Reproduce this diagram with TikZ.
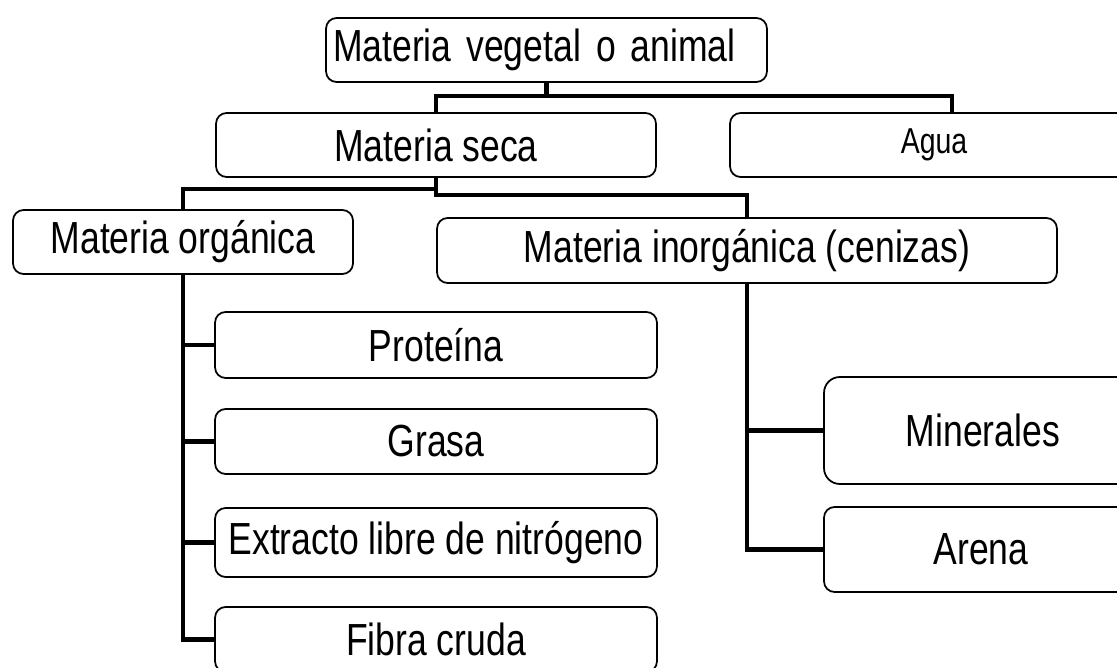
\documentclass[tikz,border=0pt]{standalone}
\usepackage{fontspec}
\setmainfont{Liberation Sans}[FakeStretch=0.79]
\usepackage{tikz}

\begin{document}
\begin{tikzpicture}[x=0.02cm, y=-0.02cm, line width=2.5pt]
                \tikzstyle{every node}=[font=\fontsize{25.6}{30}\selectfont]
                \tikzstyle{caja}=[draw, line width=1pt, rounded corners=6pt, fill=white, inner sep=0pt, align=center]
                \useasboundingbox (0,0) rectangle (1117,668);
                % nivel 1
                \node[caja, minimum width=8.82cm, minimum height=1.28cm, inner xsep=0.14cm, text width=8.54cm, align=left] (mva) at (546.5,50) {Materia vegetal o animal};
                % nivel 2
                \node[caja, minimum width=8.8cm, minimum height=1.28cm] (ms) at (436,145) {Materia seca};
                \node[caja, minimum width=8.16cm, minimum height=1.28cm, font=\fontsize{20.5}{24}\selectfont] (agua) at (934,145) {Agua};
                % nivel 3
                \node[caja, minimum width=6.8cm, minimum height=1.28cm] (mo) at (183,242) {Materia orgánica};
                \node[caja, minimum width=12.4cm, minimum height=1.3cm] (mi) at (747,250.5) {Materia inorgánica (cenizas)};
                % nivel 4
                \node[caja, minimum width=8.84cm, minimum height=1.32cm] (prot) at (436,345) {Proteína};
                \node[caja, minimum width=8.84cm, minimum height=1.3cm] (gras) at (436,441.5) {Grasa};
                \node[caja, minimum width=8.84cm, minimum height=1.38cm] (eln) at (436,542.5) {Extracto libre de nitrógeno};
                \node[caja, minimum width=8.84cm, minimum height=1.3cm] (fib) at (436,639.5) {Fibra cruda};
                \node[caja, minimum width=6.36cm, minimum height=2.14cm, rounded corners=9pt] (mine) at (983,430.5) {Minerales};
                \node[caja, minimum width=6.28cm, minimum height=1.7cm] (aren) at (981,549.5) {Arena};

            \draw (mva.south) -- ++(0,13) -| (ms.north);
            \draw (mva.south) -- ++(0,13) -| ([xshift=0.36cm]agua.north);
            \draw (ms.south) -- ++(0,11) -| (mo.north);
            \draw (ms.south) -- ++(0,17) -| (mi.north);
            \draw (mo.south) |- (prot.west);
            \draw (mo.south) |- (gras.west);
            \draw (mo.south) |- (eln.west);
            \draw (mo.south) |- (fib.west);
            \draw (mi.south) |- (mine.west);
            \draw (mi.south) |- (aren.west);
          \end{tikzpicture}
\end{document}
